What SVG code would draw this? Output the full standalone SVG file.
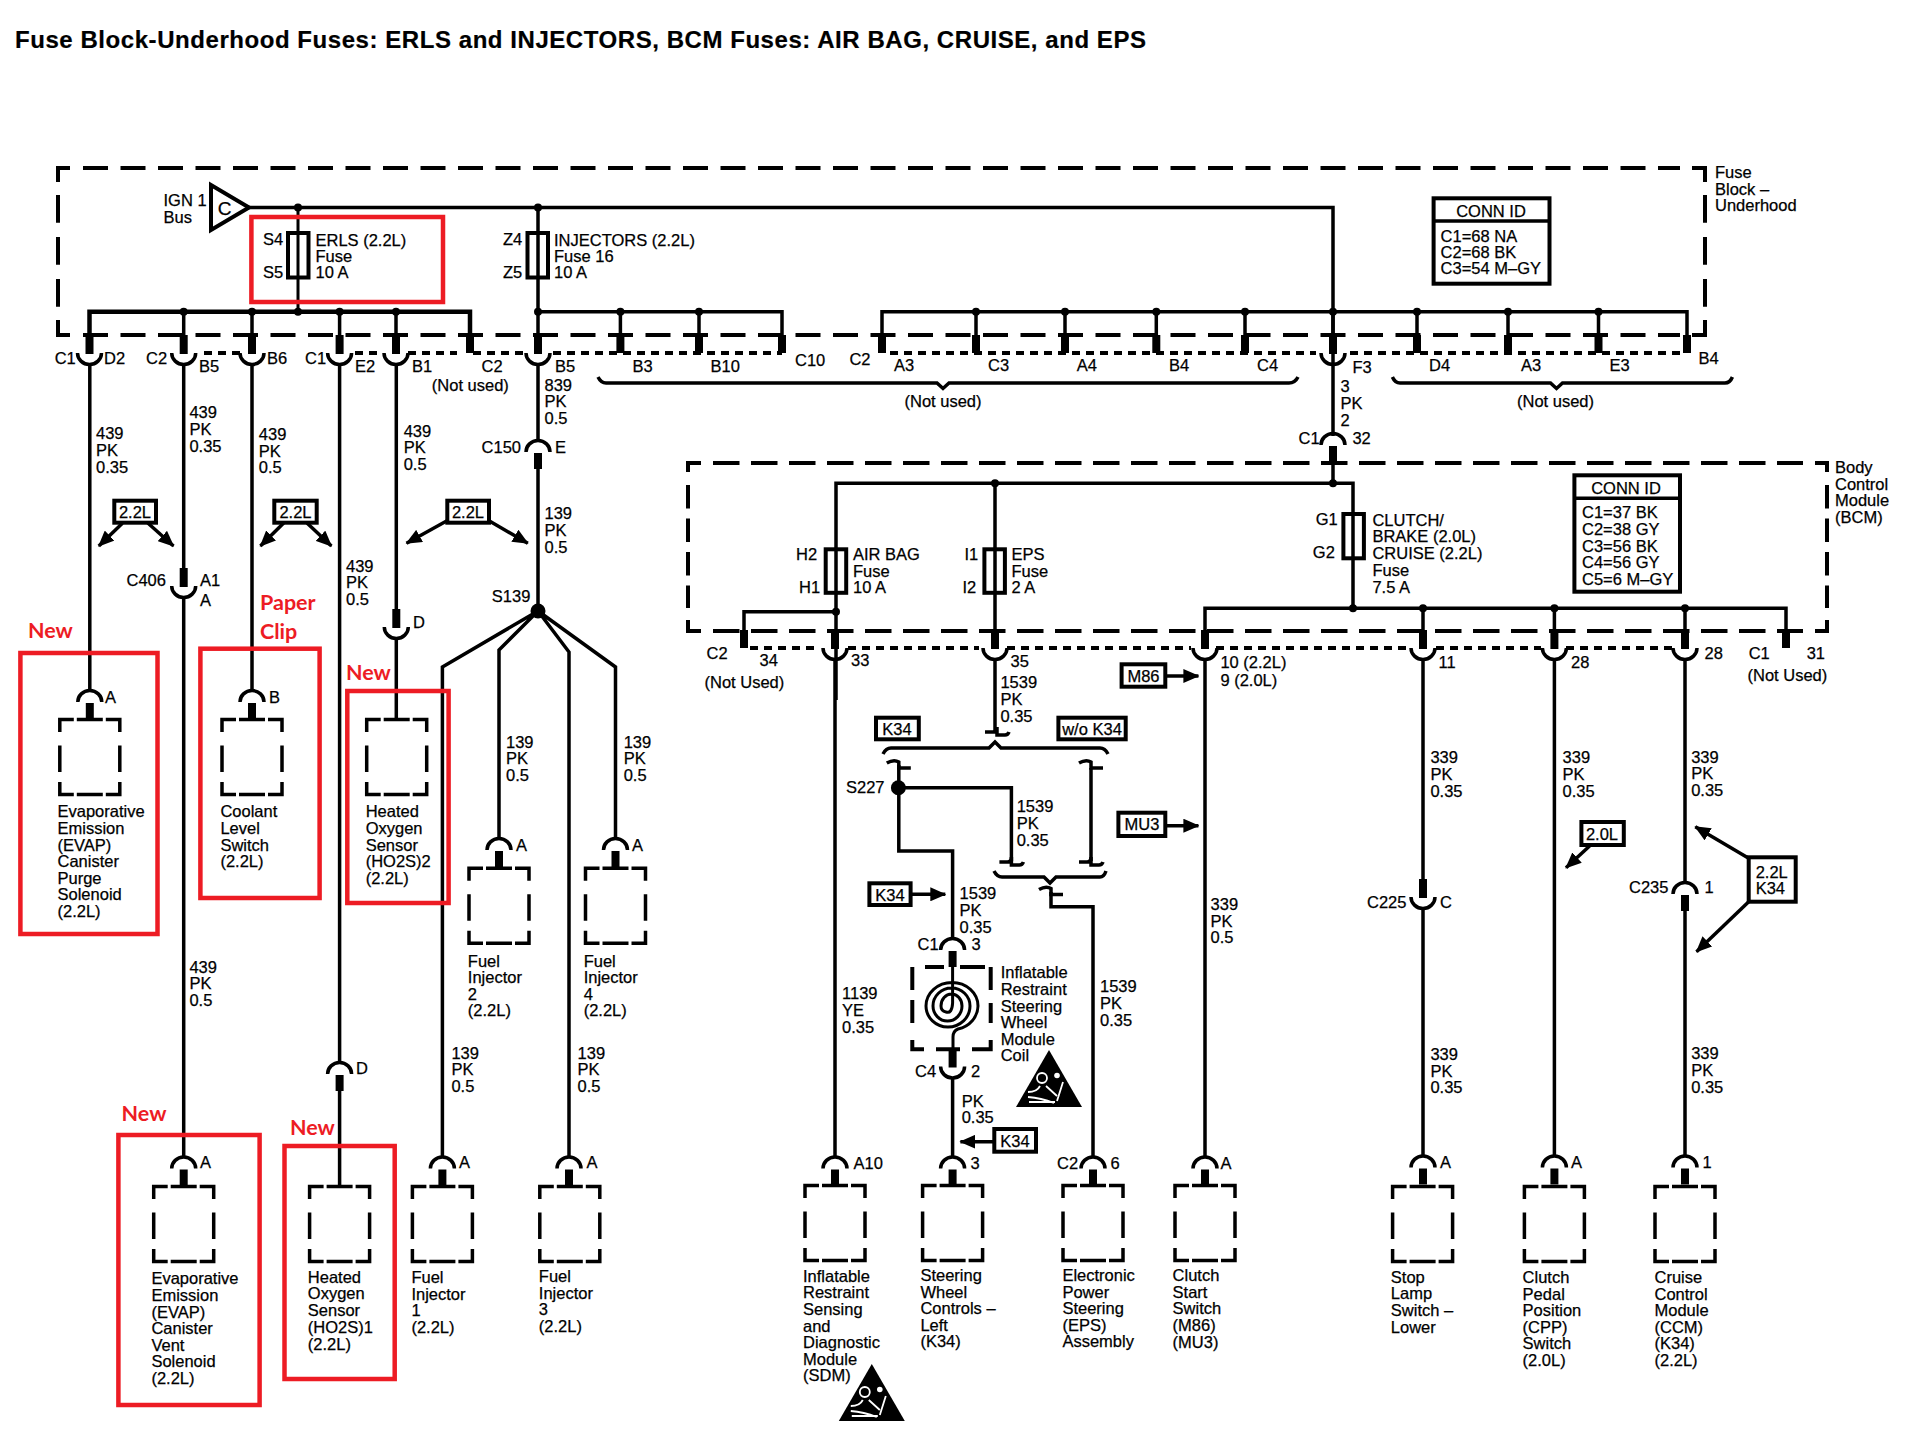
<svg xmlns="http://www.w3.org/2000/svg" xmlns:xlink="http://www.w3.org/1999/xlink" width="1912" height="1456" viewBox="0 0 1912 1456">
<style>
text{font-family:"Liberation Sans",Arial,sans-serif;font-size:16.5px;fill:#000;stroke:#000;stroke-width:.25}
.ti{font-size:24px;font-weight:bold;stroke-width:.2}
.m{text-anchor:middle}
.red{font-family:Lato,"Open Sans",sans-serif;font-size:21.5px;font-weight:bold;fill:#ed1c24;stroke:none}
.w{fill:none;stroke:#000;stroke-width:3.5}
.w3{fill:none;stroke:#000;stroke-width:3}
.b{fill:none;stroke:#000;stroke-width:4.5}
.th{fill:none;stroke:#000;stroke-width:8}
.da{fill:none;stroke:#000;stroke-width:4}
.d1{stroke-dasharray:25 12.5}
.d2{stroke-dasharray:27.7 14.3}
.d3{stroke-dasharray:26.5 11.5}
.d4{stroke-dasharray:23.5 10}
.dot{fill:none;stroke:#000;stroke-width:4;stroke-dasharray:8 6}
.r{fill:none;stroke:#ed1c24;stroke-width:4.5}
.tag{fill:#fff;stroke:#000;stroke-width:4}
.f{fill:none;stroke:#000;stroke-width:4}
.ar{fill:none;stroke:#000;stroke-width:3.5;marker-end:url(#a)}
</style>
<defs>
<marker id="a" viewBox="0 0 16 14" refX="15" refY="7" markerWidth="16" markerHeight="14" markerUnits="userSpaceOnUse" orient="auto"><path d="M0 0L16 7L0 14z" fill="#000"/></marker>
<g id="U"><path class="w" d="M-12 0A12 11.5 0 0 0 12 0"/><path class="th" d="M0 -18V1"/></g>
<g id="N"><path class="w" d="M-12 0A12 11.5 0 0 1 12 0"/><path class="th" d="M0 1V17"/></g>
<path id="S" class="th" d="M0 -18V0"/>
<circle id="o" r="4" fill="#000"/>
<path id="box" class="w" d="M-30 14V1.500H-16M-13 1.500H13M16 1.500H30V14M-30 27.500V54M30 27.500V54M-30 64V76.500H-16M-13 76.500H13M16 76.500H30V64"/>
<path id="ct" class="w" d="M-12 -2Q-5 -6 0 -3V3H12"/>
<path id="cb" class="w" d="M-12 0H-4Q0 0 0 -5V3H8Q11 3 12 0"/>
<g id="air"><path d="M0 0L33 57H-33z" fill="#000"/><g fill="none" stroke="#fff" stroke-width="1.8"><circle cx="-7" cy="28" r="5"/><path d="M-21 42Q-12 42 -9 36M-21 47Q-8 48 5 53M-20 52H6M14 32L8 51M-3 36L8 46"/></g><circle cx="8" cy="25.500" r="2.800" fill="#fff"/></g>
</defs>

<text class="ti" x="15" y="48" textLength="1131" lengthAdjust="spacing">Fuse Block-Underhood Fuses: ERLS and INJECTORS, BCM Fuses: AIR BAG, CRUISE, and EPS</text>

<g id="fuse-block-underhood">
<path class="da d1" d="M83 168H1680M83 335H1680"/>
<path class="da d2" d="M58 195V307M1705 195V307"/>
<path class="da" d="M58 182V168H70M1692 168H1705V182M58 320V335H70M1705 320V335H1692"/>
<path class="dot" d="M204 353H241M355 353H383M408 353H457M473 353H527M553 353H782M890 353H1316M1350 353H1684"/>
<text x="1715" y="178">Fuse<tspan x="1715" dy="16.600">Block –</tspan><tspan x="1715" dy="16.600">Underhood</tspan></text>
</g>
<g id="body-control-module">
<path class="da d3" d="M713 463H1803M713 631H1803"/>
<path class="da d4" d="M688 485V608M1827 485V608"/>
<path class="da" d="M688 472V463H701M1815 463H1827V472M688 620V631H701M1827 620V631H1815"/>
<path class="dot" d="M750 648H820M848 648H979M1007 648H1191M1216 648H1411M1436 648H1541M1566 648H1672"/>
<text x="1835" y="473">Body<tspan x="1835" dy="16.600">Control</tspan><tspan x="1835" dy="16.600">Module</tspan><tspan x="1835" dy="16.600">(BCM)</tspan></text>
</g>

<g id="connectors">
<path class="w" d="M249 207.500H1333V436"/>
<path class="w3" d="M298 207.500V312"/>
<path class="w" d="M538 207.500V336"/>
<path class="b" d="M89.500 337V311.700H470V337"/>
<path class="w" d="M183.700 312V337M252 312V337M339.600 312V337M396 312V337"/>
<path class="w" d="M538 311.700H782V337M620.400 312V337M699 312V337"/>
<path class="w" d="M882 337V311.700H1687V337M976 312V337M1065 312V337M1156.300 312V337M1245 312V337M1333 312V337M1417 312V337M1508 312V337M1598.500 312V337"/>
<g fill="#000">
<use xlink:href="#o" href="#o" x="298" y="207.500"/><use xlink:href="#o" href="#o" x="538" y="207.500"/>
<use xlink:href="#o" href="#o" x="183.700" y="311.700"/><use xlink:href="#o" href="#o" x="252" y="311.700"/><use xlink:href="#o" href="#o" x="298" y="311.700"/><use xlink:href="#o" href="#o" x="339.600" y="311.700"/><use xlink:href="#o" href="#o" x="396" y="311.700"/>
<use xlink:href="#o" href="#o" x="538" y="311.700"/><use xlink:href="#o" href="#o" x="620.400" y="311.700"/><use xlink:href="#o" href="#o" x="699" y="311.700"/>
<use xlink:href="#o" href="#o" x="976" y="311.700"/><use xlink:href="#o" href="#o" x="1065" y="311.700"/><use xlink:href="#o" href="#o" x="1156.300" y="311.700"/><use xlink:href="#o" href="#o" x="1245" y="311.700"/><use xlink:href="#o" href="#o" x="1333" y="311.700"/><use xlink:href="#o" href="#o" x="1417" y="311.700"/><use xlink:href="#o" href="#o" x="1508" y="311.700"/><use xlink:href="#o" href="#o" x="1598.500" y="311.700"/>
<use xlink:href="#o" href="#o" x="995" y="483.300"/><use xlink:href="#o" href="#o" x="1333" y="483.300"/>
<use xlink:href="#o" href="#o" x="836" y="611.700"/><use xlink:href="#o" href="#o" x="1353" y="608.300"/><use xlink:href="#o" href="#o" x="1423" y="608.300"/><use xlink:href="#o" href="#o" x="1554.400" y="608.300"/><use xlink:href="#o" href="#o" x="1685" y="608.300"/>
</g>
<use xlink:href="#U" href="#U" x="89.500" y="353"/><use xlink:href="#U" href="#U" x="183.700" y="353"/><use xlink:href="#U" href="#U" x="252" y="353"/><use xlink:href="#U" href="#U" x="339.600" y="353"/><use xlink:href="#U" href="#U" x="396" y="353"/><use xlink:href="#S" href="#S" x="470" y="353"/><use xlink:href="#U" href="#U" x="538" y="353"/>
<use xlink:href="#S" href="#S" x="620.400" y="353"/><use xlink:href="#S" href="#S" x="699" y="353"/><use xlink:href="#S" href="#S" x="782" y="353"/><use xlink:href="#S" href="#S" x="882" y="353"/><use xlink:href="#S" href="#S" x="976" y="353"/><use xlink:href="#S" href="#S" x="1065" y="353"/><use xlink:href="#S" href="#S" x="1156.300" y="353"/><use xlink:href="#S" href="#S" x="1245" y="353"/><use xlink:href="#U" href="#U" x="1333" y="353"/><use xlink:href="#S" href="#S" x="1417" y="353"/><use xlink:href="#S" href="#S" x="1508" y="353"/><use xlink:href="#S" href="#S" x="1598.500" y="353"/><use xlink:href="#S" href="#S" x="1687" y="353"/>
<path class="w" d="M89.800 364V691M183.700 364V568M183.700 597V1157M252 364V691M339.600 364V1063M339.600 1090V1185M396.300 364V611M396.300 639V719"/>
<use xlink:href="#U" href="#U" x="183.700" y="586"/>
<use xlink:href="#U" href="#U" x="396.300" y="627"/>
<use xlink:href="#N" href="#N" x="339.600" y="1074"/>
<path class="w" d="M538 364V441M538 469V611"/>
<use xlink:href="#N" href="#N" x="538" y="452"/>
<circle cx="538" cy="611" r="7.500" fill="#000"/>
<path class="w" d="M538 611L442.400 667V1157M538 611L499 650V838M538 611L569 652V1157M538 611L615.500 667V838"/>
<use xlink:href="#N" href="#N" x="1333" y="445"/>
<path class="w" d="M1333 460V483.300M836 700V483.300H1353V608.300M995 483.300V640M836 483.300V640"/>
<path class="w" d="M744 640V611.700H836M1205 640V608.300H1786V640M1423 608V640M1554.400 608V640M1685 608V640"/>
<use xlink:href="#S" href="#S" x="744" y="648"/><use xlink:href="#U" href="#U" x="835" y="648"/><use xlink:href="#U" href="#U" x="995" y="648"/><use xlink:href="#U" href="#U" x="1205" y="648"/><use xlink:href="#U" href="#U" x="1423" y="648"/><use xlink:href="#U" href="#U" x="1554.400" y="648"/><use xlink:href="#U" href="#U" x="1685" y="648"/><use xlink:href="#S" href="#S" x="1786" y="648"/>
<path class="w" d="M835 659V1157M1205 659V1157M1554.400 659V1156M1423 659V880M1423 908V1156M1685 659V883M1685 910V1156"/>
<use xlink:href="#U" href="#U" x="1423" y="897"/>
<use xlink:href="#N" href="#N" x="1685" y="894"/>
<path class="w" d="M995 659V731"/>
<use xlink:href="#cb" href="#cb" x="997" y="732"/>
<path class="w" d="M883 754Q886 748 891 748H989L995 742L1001 748H1100Q1105 748 1108 754"/>
<use xlink:href="#ct" href="#ct" x="898.800" y="765"/><use xlink:href="#ct" href="#ct" x="1091" y="765"/>
<path class="w" d="M898.800 765V851H952.600V939M898.800 787.700H1011.400V861M1091 768V861"/>
<circle cx="898.400" cy="787.700" r="7.500" fill="#000"/>
<use xlink:href="#cb" href="#cb" x="1011.400" y="862"/><use xlink:href="#cb" href="#cb" x="1091" y="862"/>
<path class="w" d="M994 871Q997 877 1002 877H1044L1050 883L1056 877H1100Q1104 877 1106 871"/>
<use xlink:href="#ct" href="#ct" x="1051" y="891.500"/>
<path class="w" d="M1051 892V906.700H1093V1157M952.600 1077V1157"/>
<use xlink:href="#N" href="#N" x="952.600" y="950"/>
<use xlink:href="#U" href="#U" x="952.600" y="1066.500"/>
<path class="ar" d="M122.400 523.300L98.800 546"/><path class="ar" d="M147.800 523L173.500 546"/>
<path class="ar" d="M283.700 523L260.400 546"/><path class="ar" d="M307 523L331.400 546"/>
<path class="ar" d="M447 520.700L406.500 543.300"/><path class="ar" d="M489 520.700L527.800 543.300"/>
<path class="ar" d="M1165 676H1198.400"/><path class="ar" d="M1165 825.700H1198.400"/><path class="ar" d="M910 894.300H945.300"/><path class="ar" d="M994 1141.700H960.400"/>
<path class="ar" d="M1589.600 846L1566 867.700"/>
<path class="ar" d="M1748.700 858.300L1695.300 826.700"/><path class="ar" d="M1748.700 901.700L1696.500 951.700"/>
</g>

<g id="bus-ign1"><path d="M211 185V230L249 207.500z" fill="#fff" stroke="#000" stroke-width="4"/><text x="224.500" y="214.500" class="m" style="font-size:19px">C</text><text x="163.500" y="206">IGN 1<tspan x="163.500" dy="16.600">Bus</tspan></text></g>
<g id="fuse-erls"><rect class="f" x="288" y="233" width="20.500" height="44.500"/><text x="263" y="245">S4</text><text x="263" y="278">S5</text><text x="315.500" y="245.500">ERLS (2.2L)<tspan x="315.500" dy="16.300">Fuse</tspan><tspan x="315.500" dy="16.300">10 A</tspan></text></g>
<g id="fuse-injectors"><rect class="f" x="527.500" y="233" width="20.500" height="44.500"/><text x="503" y="245">Z4</text><text x="503" y="278">Z5</text><text x="554" y="245.500">INJECTORS (2.2L)<tspan x="554" dy="16.300">Fuse 16</tspan><tspan x="554" dy="16.300">10 A</tspan></text></g>
<g id="fuse-airbag"><rect class="f" x="825.700" y="549.300" width="20.500" height="43.500"/><text x="796" y="560">H2</text><text x="799" y="593.300">H1</text><text x="853" y="560">AIR BAG<tspan x="853" dy="16.600">Fuse</tspan><tspan x="853" dy="16.600">10 A</tspan></text></g>
<g id="fuse-eps"><rect class="f" x="984.400" y="549.300" width="20.500" height="43.500"/><text x="964.500" y="560">I1</text><text x="962.400" y="593.300">I2</text><text x="1011.400" y="560">EPS<tspan x="1011.400" dy="16.600">Fuse</tspan><tspan x="1011.400" dy="16.600">2 A</tspan></text></g>
<g id="fuse-clutch"><rect class="f" x="1343.400" y="514" width="20.500" height="44.300"/><text x="1315.700" y="525">G1</text><text x="1312.800" y="558.300">G2</text><text x="1372.400" y="525.700">CLUTCH/<tspan x="1372.400" dy="16.700">BRAKE (2.0L)</tspan><tspan x="1372.400" dy="16.700">CRUISE (2.2L)</tspan><tspan x="1372.400" dy="16.700">Fuse</tspan><tspan x="1372.400" dy="16.700">7.5 A</tspan></text></g>

<g id="conn-id-1"><rect x="1433.600" y="198.300" width="115.900" height="85.400" fill="#fff" stroke="#000" stroke-width="4"/><path class="w" d="M1433.600 221H1549.500"/><text class="m" x="1491" y="217.300">CONN ID</text><text x="1440.600" y="241.700">C1=68 NA<tspan x="1440.600" dy="16.300">C2=68 BK</tspan><tspan x="1440.600" dy="16.300">C3=54 M–GY</tspan></text></g>
<g id="conn-id-2"><rect x="1574.400" y="475.300" width="105.600" height="116.400" fill="#fff" stroke="#000" stroke-width="4"/><path class="w" d="M1574.400 498.300H1680"/><text class="m" x="1626" y="494">CONN ID</text><text x="1582" y="518.300">C1=37 BK<tspan x="1582" dy="16.600">C2=38 GY</tspan><tspan x="1582" dy="16.600">C3=56 BK</tspan><tspan x="1582" dy="16.600">C4=56 GY</tspan><tspan x="1582" dy="16.600">C5=6 M–GY</tspan></text></g>

<g id="tags">
<rect class="tag" x="114.300" y="500.700" width="41.700" height="22"/><text class="m" x="135" y="517.700">2.2L</text>
<rect class="tag" x="274.300" y="500.700" width="42.400" height="22"/><text class="m" x="295.500" y="517.700">2.2L</text>
<rect class="tag" x="447.300" y="500.700" width="41.700" height="22"/><text class="m" x="468" y="517.700">2.2L</text>
<rect class="tag" x="876" y="717.700" width="42.800" height="21.600"/><text class="m" x="897" y="735">K34</text>
<rect class="tag" x="1058.400" y="717.700" width="67.300" height="21.600"/><text class="m" x="1092" y="735">w/o K34</text>
<rect class="tag" x="1121.600" y="664.300" width="43.700" height="22.400"/><text class="m" x="1143.500" y="682">M86</text>
<rect class="tag" x="1118.400" y="812.700" width="46.900" height="23.300"/><text class="m" x="1142" y="830">MU3</text>
<rect class="tag" x="869.400" y="883.300" width="41.200" height="21.700"/><text class="m" x="890" y="901">K34</text>
<rect class="tag" x="994.300" y="1129" width="41.700" height="22.700"/><text class="m" x="1015" y="1146.700">K34</text>
<rect class="tag" x="1581.400" y="822" width="42.400" height="23"/><text class="m" x="1602" y="840">2.0L</text>
<rect class="tag" x="1748.700" y="857.300" width="47" height="44.400"/><text x="1755.700" y="878.300">2.2L<tspan x="1755.700" dy="15.700">K34</tspan></text>
</g>

<g id="coil">
<path class="da" d="M925 967H944M960 967H985M912.300 967V990M912.300 1000V1023M912.300 1040V1049.300H924M936 1049.300H960M972 1049.300H990.700V1040M990.700 967V990M990.700 1003V1023"/>
<path class="w3" d="M952.600 965V1003Q952 1014 946 1012Q941 1011 941 1006A10.500 12 0 0 1 962 1006A14.500 15 0 0 1 933 1006A18.500 18 0 0 1 970 1006A22 21 0 0 1 926 1006A26 23.500 0 0 1 978 1006A26 24 0 0 1 958 1029Q953 1031 953 1037V1049"/>
<text x="1000.700" y="978.300">Inflatable<tspan x="1000.700" dy="16.600">Restraint</tspan><tspan x="1000.700" dy="16.600">Steering</tspan><tspan x="1000.700" dy="16.600">Wheel</tspan><tspan x="1000.700" dy="16.600">Module</tspan><tspan x="1000.700" dy="16.600">Coil</tspan></text>
<use xlink:href="#air" href="#air" x="1049" y="1050"/>
</g>

<g id="wire-labels">
<text x="96" y="439.300">439<tspan x="96" dy="16.600">PK</tspan><tspan x="96" dy="16.600">0.35</tspan></text>
<text x="189.400" y="418.300">439<tspan x="189.400" dy="16.600">PK</tspan><tspan x="189.400" dy="16.600">0.35</tspan></text>
<text x="258.800" y="440">439<tspan x="258.800" dy="16.600">PK</tspan><tspan x="258.800" dy="16.600">0.5</tspan></text>
<text x="403.700" y="436.700">439<tspan x="403.700" dy="16.600">PK</tspan><tspan x="403.700" dy="16.600">0.5</tspan></text>
<text x="544.500" y="390.700">839<tspan x="544.500" dy="16.600">PK</tspan><tspan x="544.500" dy="16.600">0.5</tspan></text>
<text x="544.500" y="519.300">139<tspan x="544.500" dy="16.600">PK</tspan><tspan x="544.500" dy="16.600">0.5</tspan></text>
<text x="346" y="571.700">439<tspan x="346" dy="16.600">PK</tspan><tspan x="346" dy="16.600">0.5</tspan></text>
<text x="506" y="747.700">139<tspan x="506" dy="16.600">PK</tspan><tspan x="506" dy="16.600">0.5</tspan></text>
<text x="623.700" y="747.700">139<tspan x="623.700" dy="16.600">PK</tspan><tspan x="623.700" dy="16.600">0.5</tspan></text>
<text x="189.400" y="972.700">439<tspan x="189.400" dy="16.600">PK</tspan><tspan x="189.400" dy="16.600">0.5</tspan></text>
<text x="451.400" y="1058.700">139<tspan x="451.400" dy="16.600">PK</tspan><tspan x="451.400" dy="16.600">0.5</tspan></text>
<text x="577.600" y="1058.700">139<tspan x="577.600" dy="16.600">PK</tspan><tspan x="577.600" dy="16.600">0.5</tspan></text>
<text x="1340.600" y="392.300">3<tspan x="1340.600" dy="16.700">PK</tspan><tspan x="1340.600" dy="16.700">2</tspan></text>
<text x="1000.400" y="688.300">1539<tspan x="1000.400" dy="16.600">PK</tspan><tspan x="1000.400" dy="16.600">0.35</tspan></text>
<text x="1016.700" y="812.300">1539<tspan x="1016.700" dy="16.600">PK</tspan><tspan x="1016.700" dy="16.600">0.35</tspan></text>
<text x="959.600" y="899.300">1539<tspan x="959.600" dy="16.600">PK</tspan><tspan x="959.600" dy="16.600">0.35</tspan></text>
<text x="842" y="999.300">1139<tspan x="842" dy="16.600">YE</tspan><tspan x="842" dy="16.600">0.35</tspan></text>
<text x="1100" y="992.300">1539<tspan x="1100" dy="16.600">PK</tspan><tspan x="1100" dy="16.600">0.35</tspan></text>
<text x="961.700" y="1106.700">PK<tspan x="961.700" dy="16.600">0.35</tspan></text>
<text x="1210.600" y="910">339<tspan x="1210.600" dy="16.600">PK</tspan><tspan x="1210.600" dy="16.600">0.5</tspan></text>
<text x="1430.400" y="763.300">339<tspan x="1430.400" dy="16.600">PK</tspan><tspan x="1430.400" dy="16.600">0.35</tspan></text>
<text x="1562.600" y="763.300">339<tspan x="1562.600" dy="16.600">PK</tspan><tspan x="1562.600" dy="16.600">0.35</tspan></text>
<text x="1691.200" y="762.700">339<tspan x="1691.200" dy="16.600">PK</tspan><tspan x="1691.200" dy="16.600">0.35</tspan></text>
<text x="1430.400" y="1060">339<tspan x="1430.400" dy="16.600">PK</tspan><tspan x="1430.400" dy="16.600">0.35</tspan></text>
<text x="1691.200" y="1059.300">339<tspan x="1691.200" dy="16.600">PK</tspan><tspan x="1691.200" dy="16.600">0.35</tspan></text>
</g>

<g id="connector-labels">
<text x="54.700" y="364.300">C1</text><text x="104" y="364.300">D2</text><text x="146" y="364.300">C2</text><text x="199" y="371.700">B5</text><text x="267" y="364.300">B6</text><text x="305" y="364.300">C1</text><text x="355" y="371.700">E2</text><text x="412" y="371.700">B1</text><text x="481.600" y="372">C2</text><text x="431.800" y="390.700">(Not used)</text><text x="555" y="372">B5</text>
<text x="632.600" y="371.700">B3</text><text x="710.600" y="371.700">B10</text><text x="795" y="366">C10</text><text x="849.400" y="365">C2</text><text x="894" y="371">A3</text><text x="988" y="371">C3</text><text x="1076.700" y="371">A4</text><text x="1169" y="371">B4</text><text x="1257" y="371">C4</text><text x="1352.400" y="372.700">F3</text><text x="1429" y="371">D4</text><text x="1521" y="371">A3</text><text x="1609.500" y="371">E3</text><text x="1698.500" y="364">B4</text>
<text x="904.500" y="406.700">(Not used)</text><text x="1517" y="406.700">(Not used)</text>
<text x="481.600" y="452.700">C150</text><text x="555" y="452.700">E</text>
<text x="1298.500" y="444">C1</text><text x="1352.400" y="444">32</text>
<text x="126.500" y="586">C406</text><text x="200" y="586">A1</text><text x="200" y="605.700">A</text>
<text x="491.800" y="602">S139</text><text x="413" y="627.700">D</text><text x="356" y="1074">D</text>
<text x="706.500" y="659.300">C2</text><text x="759.600" y="666">34</text><text x="704.500" y="687.700">(Not Used)</text><text x="851" y="666">33</text><text x="1010.600" y="667">35</text><text x="1220.400" y="667.700">10 (2.2L)</text><text x="1220.400" y="685.700">9 (2.0L)</text><text x="1438.500" y="667.700">11</text><text x="1571" y="667.700">28</text><text x="1704.600" y="659.300">28</text><text x="1748.700" y="659.300">C1</text><text x="1806.700" y="659.300">31</text><text x="1747.500" y="680.700">(Not Used)</text>
<text x="846" y="793">S227</text><text x="917.600" y="950">C1</text><text x="971.400" y="950">3</text><text x="915" y="1077.300">C4</text><text x="971" y="1077.300">2</text>
<text x="1367" y="908.300">C225</text><text x="1440" y="908.300">C</text><text x="1629" y="893.300">C235</text><text x="1704.600" y="893.300">1</text>
</g>

<path id="brace-1" class="w" d="M598 377Q601 383 606 383H937L943 388.500L949 383H1289Q1295 383 1298 377"/>
<path id="brace-2" class="w" d="M1392.400 377Q1395 383 1400 383H1550.500L1556.500 388.500L1562.500 383H1725Q1730 383 1732.400 377"/>

<g id="dev-evap-purge"><use xlink:href="#box" href="#box" x="89.800" y="718"/><use xlink:href="#N" href="#N" x="89.800" y="702"/><text x="105" y="702.700">A</text><text x="57.500" y="817.300">Evaporative<tspan x="57.500" dy="16.600">Emission</tspan><tspan x="57.500" dy="16.600">(EVAP)</tspan><tspan x="57.500" dy="16.600">Canister</tspan><tspan x="57.500" dy="16.600">Purge</tspan><tspan x="57.500" dy="16.600">Solenoid</tspan><tspan x="57.500" dy="17">(2.2L)</tspan></text></g>
<g id="dev-coolant"><use xlink:href="#box" href="#box" x="252" y="718"/><use xlink:href="#N" href="#N" x="252" y="702"/><text x="269" y="702.700">B</text><text x="220.400" y="817.300">Coolant<tspan x="220.400" dy="16.600">Level</tspan><tspan x="220.400" dy="16.600">Switch</tspan><tspan x="220.400" dy="16.600">(2.2L)</tspan></text></g>
<g id="dev-ho2s2"><use xlink:href="#box" href="#box" x="396.700" y="718"/><text x="365.700" y="817.300">Heated<tspan x="365.700" dy="16.600">Oxygen</tspan><tspan x="365.700" dy="16.600">Sensor</tspan><tspan x="365.700" dy="16.600">(HO2S)2</tspan><tspan x="365.700" dy="17">(2.2L)</tspan></text></g>
<g id="dev-inj2"><use xlink:href="#box" href="#box" x="499" y="866.700"/><use xlink:href="#N" href="#N" x="499" y="850"/><text x="516" y="851">A</text><text x="467.800" y="966.500">Fuel<tspan x="467.800" dy="16.600">Injector</tspan><tspan x="467.800" dy="16.600">2</tspan><tspan x="467.800" dy="16.600">(2.2L)</tspan></text></g>
<g id="dev-inj4"><use xlink:href="#box" href="#box" x="615.500" y="866.700"/><use xlink:href="#N" href="#N" x="615.500" y="850"/><text x="632" y="851">A</text><text x="583.700" y="966.500">Fuel<tspan x="583.700" dy="16.600">Injector</tspan><tspan x="583.700" dy="16.600">4</tspan><tspan x="583.700" dy="16.600">(2.2L)</tspan></text></g>
<g id="dev-evap-vent"><use xlink:href="#box" href="#box" x="183.700" y="1185"/><use xlink:href="#N" href="#N" x="183.700" y="1168.500"/><text x="200" y="1168">A</text><text x="151.400" y="1284.300">Evaporative<tspan x="151.400" dy="16.600">Emission</tspan><tspan x="151.400" dy="16.600">(EVAP)</tspan><tspan x="151.400" dy="16.600">Canister</tspan><tspan x="151.400" dy="16.600">Vent</tspan><tspan x="151.400" dy="16.600">Solenoid</tspan><tspan x="151.400" dy="16.600">(2.2L)</tspan></text></g>
<g id="dev-ho2s1"><use xlink:href="#box" href="#box" x="339.600" y="1185"/><text x="307.800" y="1282.700">Heated<tspan x="307.800" dy="16.600">Oxygen</tspan><tspan x="307.800" dy="16.600">Sensor</tspan><tspan x="307.800" dy="16.600">(HO2S)1</tspan><tspan x="307.800" dy="17">(2.2L)</tspan></text></g>
<g id="dev-inj1"><use xlink:href="#box" href="#box" x="442.400" y="1185"/><use xlink:href="#N" href="#N" x="442.400" y="1168.500"/><text x="459" y="1168">A</text><text x="411.400" y="1283">Fuel<tspan x="411.400" dy="16.600">Injector</tspan><tspan x="411.400" dy="16.600">1</tspan><tspan x="411.400" dy="16.600">(2.2L)</tspan></text></g>
<g id="dev-inj3"><use xlink:href="#box" href="#box" x="569.800" y="1185"/><use xlink:href="#N" href="#N" x="569" y="1168.500"/><text x="586.500" y="1168">A</text><text x="538.800" y="1282">Fuel<tspan x="538.800" dy="16.600">Injector</tspan><tspan x="538.800" dy="16.600">3</tspan><tspan x="538.800" dy="16.600">(2.2L)</tspan></text></g>
<g id="dev-sdm"><use xlink:href="#box" href="#box" x="835" y="1184"/><use xlink:href="#N" href="#N" x="835" y="1168.500"/><text x="853.500" y="1169">A10</text><text x="803" y="1281.700">Inflatable<tspan x="803" dy="16.600">Restraint</tspan><tspan x="803" dy="16.600">Sensing</tspan><tspan x="803" dy="16.600">and</tspan><tspan x="803" dy="16.600">Diagnostic</tspan><tspan x="803" dy="16.600">Module</tspan><tspan x="803" dy="16.600">(SDM)</tspan></text><use xlink:href="#air" href="#air" x="871.800" y="1364"/></g>
<g id="dev-swc"><use xlink:href="#box" href="#box" x="952.600" y="1184"/><use xlink:href="#N" href="#N" x="952.600" y="1168.500"/><text x="970.600" y="1169">3</text><text x="920.400" y="1281">Steering<tspan x="920.400" dy="16.600">Wheel</tspan><tspan x="920.400" dy="16.600">Controls –</tspan><tspan x="920.400" dy="16.600">Left</tspan><tspan x="920.400" dy="16.600">(K34)</tspan></text></g>
<g id="dev-eps"><use xlink:href="#box" href="#box" x="1093" y="1184"/><use xlink:href="#N" href="#N" x="1093" y="1168.500"/><text x="1057" y="1169">C2</text><text x="1110.600" y="1169">6</text><text x="1062.400" y="1281">Electronic<tspan x="1062.400" dy="16.600">Power</tspan><tspan x="1062.400" dy="16.600">Steering</tspan><tspan x="1062.400" dy="16.600">(EPS)</tspan><tspan x="1062.400" dy="16.600">Assembly</tspan></text></g>
<g id="dev-clutch-start"><use xlink:href="#box" href="#box" x="1205" y="1184"/><use xlink:href="#N" href="#N" x="1205" y="1168.500"/><text x="1220.400" y="1169">A</text><text x="1172.600" y="1281">Clutch<tspan x="1172.600" dy="16.600">Start</tspan><tspan x="1172.600" dy="16.600">Switch</tspan><tspan x="1172.600" dy="16.600">(M86)</tspan><tspan x="1172.600" dy="17">(MU3)</tspan></text></g>
<g id="dev-stop-lamp"><use xlink:href="#box" href="#box" x="1422.600" y="1185"/><use xlink:href="#N" href="#N" x="1423" y="1167.500"/><text x="1440" y="1167.700">A</text><text x="1390.800" y="1282.700">Stop<tspan x="1390.800" dy="16.600">Lamp</tspan><tspan x="1390.800" dy="16.600">Switch –</tspan><tspan x="1390.800" dy="16.600">Lower</tspan></text></g>
<g id="dev-cpp"><use xlink:href="#box" href="#box" x="1554.400" y="1185"/><use xlink:href="#N" href="#N" x="1554.400" y="1167.500"/><text x="1571" y="1167.700">A</text><text x="1522.600" y="1283">Clutch<tspan x="1522.600" dy="16.600">Pedal</tspan><tspan x="1522.600" dy="16.600">Position</tspan><tspan x="1522.600" dy="16.600">(CPP)</tspan><tspan x="1522.600" dy="16.600">Switch</tspan><tspan x="1522.600" dy="16.600">(2.0L)</tspan></text></g>
<g id="dev-ccm"><use xlink:href="#box" href="#box" x="1685" y="1185"/><use xlink:href="#N" href="#N" x="1685" y="1167.500"/><text x="1702.600" y="1167.700">1</text><text x="1654.500" y="1283">Cruise<tspan x="1654.500" dy="16.600">Control</tspan><tspan x="1654.500" dy="16.600">Module</tspan><tspan x="1654.500" dy="16.600">(CCM)</tspan><tspan x="1654.500" dy="16.600">(K34)</tspan><tspan x="1654.500" dy="16.600">(2.2L)</tspan></text></g>

<g id="annotations">
<rect class="r" x="251.400" y="217" width="191.600" height="85"/>
<rect class="r" x="20.400" y="653" width="137.100" height="281"/>
<rect class="r" x="200.400" y="648.700" width="119.200" height="249.300"/>
<rect class="r" x="347.300" y="691" width="101.300" height="212"/>
<rect class="r" x="118.400" y="1135" width="141.200" height="270"/>
<rect class="r" x="284.500" y="1146" width="110.200" height="233"/>
<text class="red" x="28" y="637.700">New</text>
<text class="red" x="260" y="610">Paper</text>
<text class="red" x="260" y="639">Clip</text>
<text class="red" x="346" y="680">New</text>
<text class="red" x="121.600" y="1121">New</text>
<text class="red" x="290" y="1135">New</text>
</g>
</svg>
